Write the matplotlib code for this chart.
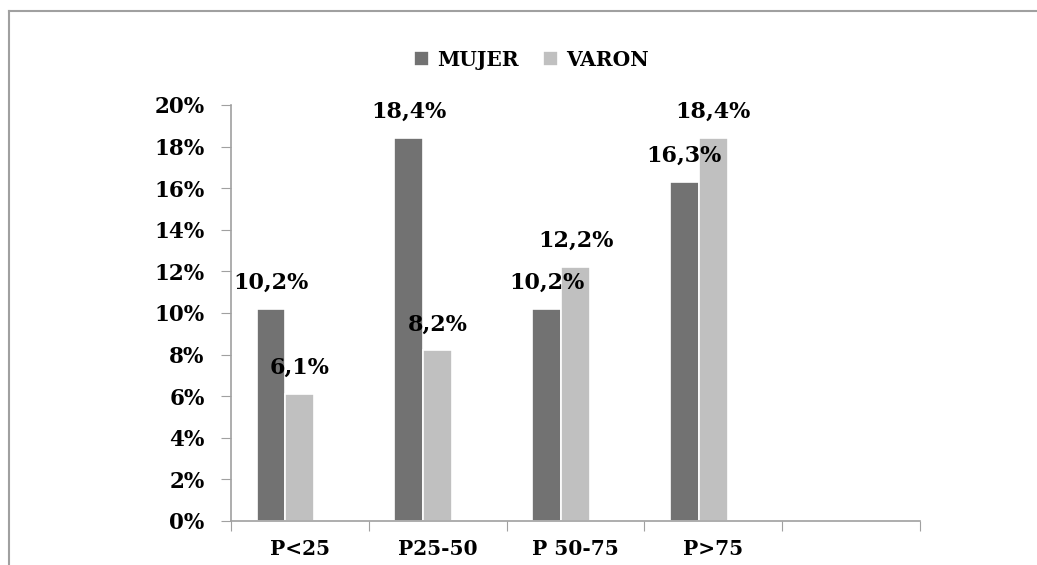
import matplotlib.pyplot as plt
from matplotlib.lines import Line2D

categorias = ["P<25", "P25-50", "P 50-75", "P>75", ""]
mujer = [10.2, 18.4, 10.2, 16.3]
varon = [6.1, 8.2, 12.2, 18.4]
series = ["MUJER", "VARON"]
colores = ["#727272", "#c0c0c0"]

plt.rcParams["font.family"] = ["DejaVu Serif"]
plt.rcParams["font.weight"] = "bold"

fig = plt.figure(figsize=(10.37, 5.65), dpi=100)
ax = fig.add_axes([0.2228, 0.0779, 0.6644, 0.7363])

ancho = 0.21
centros = [i + 0.5 for i in range(len(mujer))]

for k, (vals, nombre, color) in enumerate(zip([mujer, varon], series, colores)):
    xs = [c + (k - 1) * ancho for c in centros]
    ax.bar(xs, [v / 100 for v in vals], width=ancho, color=color,
           edgecolor="white", linewidth=1.2, label=nombre, zorder=2)
    for x, v in zip(xs, vals):
        ax.annotate(f"{v:.1f}%".replace(".", ","), (x, v / 100),
                    xytext=(0, 14.5), textcoords="offset points",
                    ha="center", va="baseline", fontsize=16, fontweight="bold")

ax.set_xlim(0, len(categorias))
ax.set_ylim(0, 0.20)
ax.set_yticks([i / 100 for i in range(0, 21, 2)])
ax.set_yticklabels([f"{i}%" for i in range(0, 21, 2)], fontsize=15.5, fontweight="bold")

ax.set_xticks(range(len(categorias) + 1))
ax.set_xticklabels([])
ax.set_xticks(centros + [4.5], minor=True)
ax.set_xticklabels(categorias, minor=True, fontsize=14.5, fontweight="bold")
ax.tick_params(axis="x", which="minor", length=0, pad=13)
ax.tick_params(axis="x", which="major", length=7, color="#a0a0a0", direction="out")
ax.tick_params(axis="y", length=7, color="#a0a0a0", pad=12)

for lado in ["top", "right"]:
    ax.spines[lado].set_visible(False)
for lado in ["left", "bottom"]:
    ax.spines[lado].set_color("#a0a0a0")
    ax.spines[lado].set_linewidth(1.2)

leg = fig.legend(loc="center", bbox_to_anchor=(0.512, 0.894), ncol=2, frameon=False,
                 fontsize=14.5, handlelength=0.75, handleheight=0.75,
                 handletextpad=0.4, columnspacing=1.2)
for t in leg.get_texts():
    t.set_fontweight("bold")

# marco exterior del grafico
fig.add_artist(Line2D([9 / 1037, 9 / 1037], [0, 1 - 11 / 565], color="#a0a0a0", lw=1.5))
fig.add_artist(Line2D([9 / 1037, 1.01], [1 - 11 / 565, 1 - 11 / 565], color="#a0a0a0", lw=1.5))

fig.savefig("out.png", dpi=100)
